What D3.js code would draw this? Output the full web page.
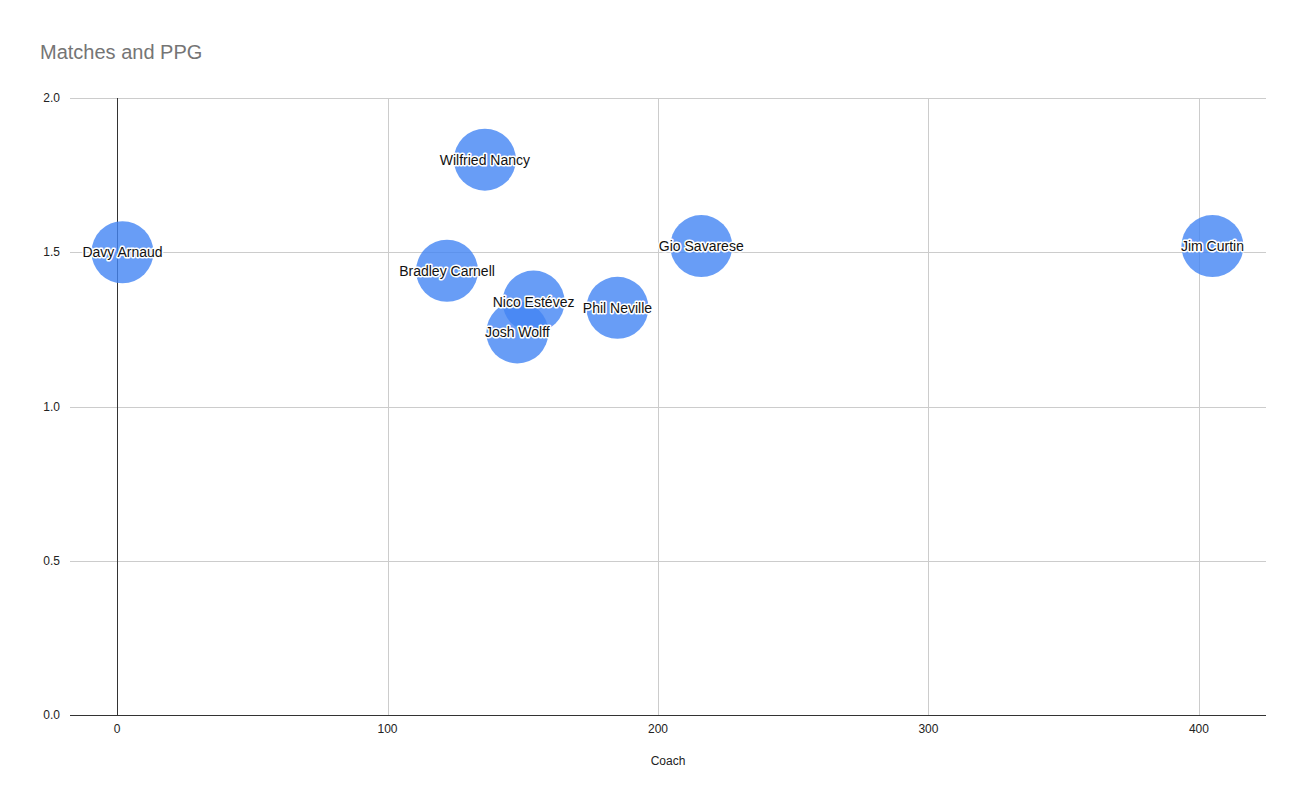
<!DOCTYPE html>
<html>
<head>
<meta charset="utf-8">
<script src="https://cdn.jsdelivr.net/npm/d3@7"></script>
<style>
  body { margin: 0; background: #fff; }
  text { font-family: Arial, "Liberation Sans", sans-serif; }
</style>
</head>
<body>
<svg id="chart" width="1307" height="808"></svg>
<script>
// coach names, matches coached, points per game
var coaches = ["Davy Arnaud", "Wilfried Nancy", "Bradley Carnell", "Nico Estévez", "Josh Wolff", "Phil Neville", "Gio Savarese", "Jim Curtin"];
var matches = [2, 136, 122, 154, 148, 185, 216, 405];
var ppg = [1.50, 1.80, 1.44, 1.34, 1.24, 1.32, 1.52, 1.52];

var xTicks = [0, 100, 200, 300, 400];
var yTicks = [0, 0.5, 1.0, 1.5, 2.0];

var svg = d3.select("#chart");
var plotL = 70, plotR = 1266, plotT = 98, plotB = 715;

var x = d3.scaleLinear().domain([-17.4, 424.8]).range([plotL, plotR]);
var y = d3.scaleLinear().domain([0, 2]).range([plotB, plotT]);

svg.append("text")
	.attr("x", 40).attr("y", 59)
	.attr("font-size", 20).attr("fill", "#757575")
	.text("Matches and PPG");

// grid
svg.append("g").selectAll("line").data(xTicks.filter(function(d){ return d != 0; }))
	.enter().append("line")
	.attr("x1", function(d){ return Math.round(x(d)) + 0.5; })
	.attr("x2", function(d){ return Math.round(x(d)) + 0.5; })
	.attr("y1", plotT).attr("y2", plotB)
	.attr("stroke", "#cccccc");

svg.append("g").selectAll("line").data(yTicks.filter(function(d){ return d != 0; }))
	.enter().append("line")
	.attr("x1", plotL).attr("x2", plotR)
	.attr("y1", function(d){ return Math.round(y(d)) + 0.5; })
	.attr("y2", function(d){ return Math.round(y(d)) + 0.5; })
	.attr("stroke", "#cccccc");

// zero lines
svg.append("line")
	.attr("x1", Math.round(x(0)) + 0.5).attr("x2", Math.round(x(0)) + 0.5)
	.attr("y1", plotT).attr("y2", plotB)
	.attr("stroke", "#333333");
svg.append("line")
	.attr("x1", plotL).attr("x2", plotR)
	.attr("y1", Math.round(y(0)) + 0.5).attr("y2", Math.round(y(0)) + 0.5)
	.attr("stroke", "#333333");

// tick labels
svg.append("g").selectAll("text").data(yTicks)
	.enter().append("text")
	.attr("x", 60).attr("y", function(d){ return y(d) + 4; })
	.attr("text-anchor", "end").attr("font-size", 12).attr("fill", "#222")
	.text(function(d){ return d3.format(".1f")(d); });

svg.append("g").selectAll("text").data(xTicks)
	.enter().append("text")
	.attr("x", function(d){ return x(d); }).attr("y", 733)
	.attr("text-anchor", "middle").attr("font-size", 12).attr("fill", "#222")
	.text(function(d){ return d; });

svg.append("text")
	.attr("x", (plotL + plotR) / 2).attr("y", 765)
	.attr("text-anchor", "middle").attr("font-size", 12).attr("fill", "#222")
	.text("Coach");

var data = coaches.map(function(c, i){ return {name: c, m: matches[i], p: ppg[i]}; });

svg.append("g").selectAll("circle").data(data)
	.enter().append("circle")
	.attr("cx", function(d){ return x(d.m); })
	.attr("cy", function(d){ return y(d.p); })
	.attr("r", 31)
	.attr("fill", "#4285f4").attr("fill-opacity", 0.8);

var labels = svg.append("g");
labels.selectAll("text.halo").data(data)
	.enter().append("text")
	.attr("x", function(d){ return x(d.m); })
	.attr("y", function(d){ return y(d.p) + 5; })
	.attr("text-anchor", "middle").attr("font-size", 14)
	.attr("fill", "none").attr("stroke", "#fff").attr("stroke-width", 3).attr("stroke-linejoin", "round")
	.text(function(d){ return d.name; });
labels.selectAll("text.lbl").data(data)
	.enter().append("text")
	.attr("x", function(d){ return x(d.m); })
	.attr("y", function(d){ return y(d.p) + 5; })
	.attr("text-anchor", "middle").attr("font-size", 14).attr("fill", "#111")
	.text(function(d){ return d.name; });
</script>
</body>
</html>
